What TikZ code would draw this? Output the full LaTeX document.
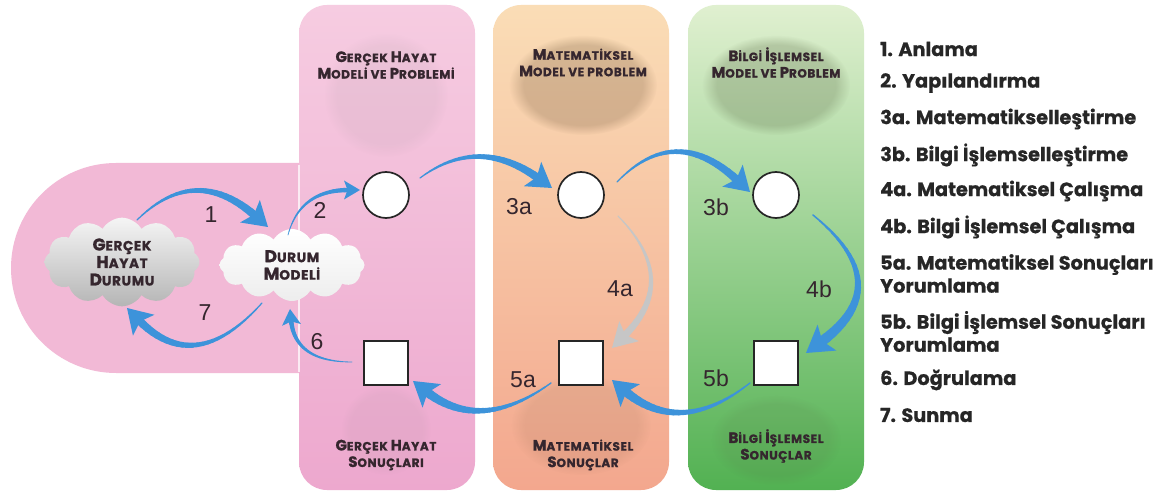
\documentclass[tikz,border=0pt]{standalone}
\usepackage{fontspec}
\setmainfont{Poppins}
\newfontfamily\listfont{Poppins}[BoldFeatures={FakeBold=0.6}]
\newfontfamily\capfont{Poppins}[LetterSpace=5, BoldFeatures={FakeBold=1.2}]
\newfontfamily\numfont{Liberation Sans}
\usetikzlibrary{calc,shapes.symbols,fadings}

\definecolor{stadium}{HTML}{F2B9D6}
\definecolor{pinkTop}{HTML}{F6CCE1}
\definecolor{pinkBot}{HTML}{EDA8CE}
\definecolor{orTop}{HTML}{FADDB6}
\definecolor{orMid}{HTML}{F8C3A5}
\definecolor{orBot}{HTML}{F3A78E}
\definecolor{grTop}{HTML}{E0F0D0}
\definecolor{grMid}{HTML}{A6D696}
\definecolor{grBot}{HTML}{52B152}
\definecolor{flow}{HTML}{3D93DA}
\definecolor{flowgrey}{HTML}{C6C6C6}
\definecolor{ink}{HTML}{35262E}
\definecolor{listink}{HTML}{262626}
\definecolor{smudge}{HTML}{6B5236}
\definecolor{smudgegreen}{HTML}{55633F}

% fake small caps: large initial, smaller rest
\newcommand\hs[2]{{\fontsize{15}{16}\selectfont #1}#2}
\newcommand\hc[2]{{\fontsize{17}{18}\selectfont #1}#2}

% tapered curved arrow: #1 start, #2 control, #3 tip, #4 colour,
% #5 widest shaft width, #6 head length, #7 half head width (pt numbers)
\newcommand\flowarrow[7]{%
  \coordinate (fa-a) at #1;
  \coordinate (fa-c) at #2;
  \coordinate (fa-b) at #3;
  \pgfmathsetmacro\faend{0.7*#6}%
  \pgfmathsetmacro\fanotch{0.78*#6}%
  \coordinate (fa-e) at ($(fa-b)!\faend pt!(fa-c)$);
  \coordinate (fa-h) at ($(fa-b)!#6 pt!(fa-c)$);
  \foreach \k in {1,...,24}{%
    \pgfmathsetmacro\ta{(\k-1)/24}%
    \pgfmathsetmacro\tb{\k/24}%
    \pgfmathsetmacro\wd{#5*(0.12+0.88*\tb)}%
    \draw[#4, line width=\wd pt, line cap=round]
      ($ {(1-\ta)*(1-\ta)}*(fa-a) + {2*\ta*(1-\ta)}*(fa-c) + {\ta*\ta}*(fa-e) $) --
      ($ {(1-\tb)*(1-\tb)}*(fa-a) + {2*\tb*(1-\tb)}*(fa-c) + {\tb*\tb}*(fa-e) $);
  }
  \fill[#4] (fa-b) -- ($(fa-h)!#7 pt!90:(fa-b)$) -- ($(fa-b)!\fanotch pt!(fa-c)$)
    -- ($(fa-h)!#7 pt!-90:(fa-b)$) -- cycle;
}

\tikzset{
  stepcircle/.style={circle, draw=black!85, line width=1.7pt, fill=white,
    minimum size=46pt, inner sep=0pt},
  stepsquare/.style={rectangle, draw=black!85, line width=1.7pt, fill=white,
    minimum size=44pt, inner sep=0pt},
  colhead/.style={align=center, text=ink, inner sep=0pt,
    font=\capfont\bfseries\fontsize{12}{16.5}\selectfont},
  cloudbox/.style={cloud, cloud puffs=12, cloud puff arc=120, cloud ignores aspect,
    draw=none, align=center, text=ink,
    font=\capfont\bfseries\fontsize{13.5}{17.5}\selectfont},
  steplabel/.style={text=ink, inner sep=0pt, font=\numfont\fontsize{23}{23}\selectfont},
  listitem/.style={anchor=west, align=left, text=listink, inner sep=0pt,
    font=\listfont\bfseries\fontsize{19.3}{23}\selectfont},
}

\begin{document}
\begin{tikzpicture}[x=1pt,y=-1pt]
\useasboundingbox (0,0) rectangle (1165,494);
\fill[white] (0,0) rectangle (1165,494);

% backdrop: rounded pink band on the left and three columns
\fill[stadium] (300,163) -- (116,163) arc[start angle=90, end angle=270, radius=105pt]
  -- (300,373) -- cycle;
\shade[top color=pinkTop, bottom color=pinkBot, rounded corners=28pt]
  (299,5) rectangle (475,490);
\draw[white!60!pinkTop, line width=1.2pt] (299,165) -- (299,372);
\shade[top color=orTop, middle color=orMid, bottom color=orBot, rounded corners=28pt]
  (493,5) rectangle (669,490);
\shade[top color=grTop, middle color=grMid, bottom color=grBot, rounded corners=28pt]
  (688,5) rectangle (864,490);

% soft smudges behind the column titles
\fill[gray, opacity=0.08, path fading=circle with fuzzy edge 20 percent]
  (386,95) ellipse [x radius=62pt, y radius=62pt];
\fill[smudge, opacity=0.26, path fading=circle with fuzzy edge 20 percent]
  (583,85) ellipse [x radius=74pt, y radius=50pt];
\fill[smudgegreen, opacity=0.26, path fading=circle with fuzzy edge 20 percent]
  (776,85) ellipse [x radius=74pt, y radius=50pt];
\fill[gray, opacity=0.07, path fading=circle with fuzzy edge 20 percent]
  (386,430) ellipse [x radius=45pt, y radius=45pt];
\fill[smudge, opacity=0.10, path fading=circle with fuzzy edge 20 percent]
  (581,425) ellipse [x radius=70pt, y radius=50pt];
\fill[smudgegreen, opacity=0.10, path fading=circle with fuzzy edge 20 percent]
  (776,440) ellipse [x radius=65pt, y radius=45pt];

% column titles
\node[colhead] (t1) at (386,65) {\hs{G}{ERÇEK} \hs{H}{AYAT}\\\hs{M}{ODELİ} VE \hs{P}{ROBLEMİ}};
\node[colhead] (t2) at (583,62.5) {\hs{M}{ATEMATİKSEL}\\\hs{M}{ODEL} VE PROBLEM};
\node[colhead] (t3) at (776,62.5) {\hs{B}{İLGİ} \hs{İ}{ŞLEMSEL}\\\hs{M}{ODEL} VE \hs{P}{ROBLEM}};
\node[colhead] (b1) at (386,455) {\hs{G}{ERÇEK} \hs{H}{AYAT}\\\hs{S}{ONUÇLARI}};
\node[colhead] (b2) at (583,455) {\hs{M}{ATEMATİKSEL}\\\hs{S}{ONUÇLAR}};
\node[colhead] (b3) at (776,446) {\hs{B}{İLGİ} \hs{İ}{ŞLEMSEL}\\\hs{S}{ONUÇLAR}};

% clouds
\node[cloudbox, minimum width=155pt, minimum height=86pt,
  top color=gray!8, bottom color=gray!58] (g1) at (122,262)
  {\hc{G}{ERÇEK}\\\hc{H}{AYAT}\\\hc{D}{URUMU}};
\node[cloudbox, minimum width=145pt, minimum height=72pt,
  top color=white, bottom color=gray!14] (d) at (292,265)
  {\hc{D}{URUM}\\\hc{M}{ODELİ}};

% model and result boxes
\node[stepcircle] (c1) at (386,195) {};
\node[stepcircle] (c2) at (581,195) {};
\node[stepcircle] (c3) at (776,195) {};
\node[stepsquare] (s1) at (386,363) {};
\node[stepsquare] (s2) at (581,363) {};
\node[stepsquare] (s3) at (776,363) {};

% cycle arrows
\flowarrow{($(g1.center)+(15,-42)$)}{(195,163)}{($(d.center)+(-24,-38)$)}{flow}{8}{24}{15}
\flowarrow{($(d.center)+(-4,-30)$)}{(300,190)}{($(c1.center)+(-26,-5)$)}{flow}{4.5}{16}{9.5}
\flowarrow{($(c1.center)+(34,-17)$)}{(478,135)}{($(c2.center)+(-29,-7)$)}{flow}{8}{24}{15}
\flowarrow{($(c2.center)+(36,-13)$)}{(675,122)}{($(c3.center)+(-26,-3)$)}{flow}{8}{24}{15}
\flowarrow{($(c2.center)+(37,21)$)}{(681,280)}{($(s2.center)+(31,-15)$)}{flowgrey}{7}{24}{14}
\flowarrow{($(c3.center)+(37,20)$)}{(899,285)}{($(s3.center)+(30,-10)$)}{flow}{10}{26}{16}
\flowarrow{($(s3.center)+(-26,20)$)}{(680,438)}{($(s2.center)+(31,17)$)}{flow}{9}{24}{15}
\flowarrow{($(s2.center)+(-30,20)$)}{(480,434)}{($(s1.center)+(27,18)$)}{flow}{9}{24}{15}
\flowarrow{($(s1.center)+(-34,-1)$)}{(295,362)}{($(d.center)+(-2,44)$)}{flow}{4.5}{16}{9.5}
\flowarrow{($(d.center)+(-30,38)$)}{(195,378)}{($(g1.center)+(5,46)$)}{flow}{8}{24}{15}

% arrow numbers
\node[steplabel] (n1) at (211,215) {1};
\node[steplabel] (n2) at (320,210) {2};
\node[steplabel] (n3a) at (519,207) {3a};
\node[steplabel] (n3b) at (716,207) {3b};
\node[steplabel] (n4a) at (620,289) {4a};
\node[steplabel] (n4b) at (819,289) {4b};
\node[steplabel] (n5a) at (523,380) {5a};
\node[steplabel] (n5b) at (716,378) {5b};
\node[steplabel] (n6) at (317,342) {6};
\node[steplabel] (n7) at (205,313) {7};

% legend
\node[listitem] (l1) at (880,49) {1. Anlama};
\node[listitem] (l2) at (880,83) {2. Yapılandırma};
\node[listitem] (l3a) at (880,119) {3a. Matematikselleştirme};
\node[listitem] (l3b) at (880,155) {3b. Bilgi İşlemselleştirme};
\node[listitem] (l4a) at (880,191) {4a. Matematiksel Çalışma};
\node[listitem] (l4b) at (880,227) {4b. Bilgi İşlemsel Çalışma};
\node[listitem] (l5a) at (880,273.5) {5a. Matematiksel Sonuçları\\Yorumlama};
\node[listitem] (l5b) at (880,331.5) {5b. Bilgi İşlemsel Sonuçları\\Yorumlama};
\node[listitem] (l6) at (880,380) {6. Doğrulama};
\node[listitem] (l7) at (880,415) {7. Sunma};
\end{tikzpicture}
\end{document}
